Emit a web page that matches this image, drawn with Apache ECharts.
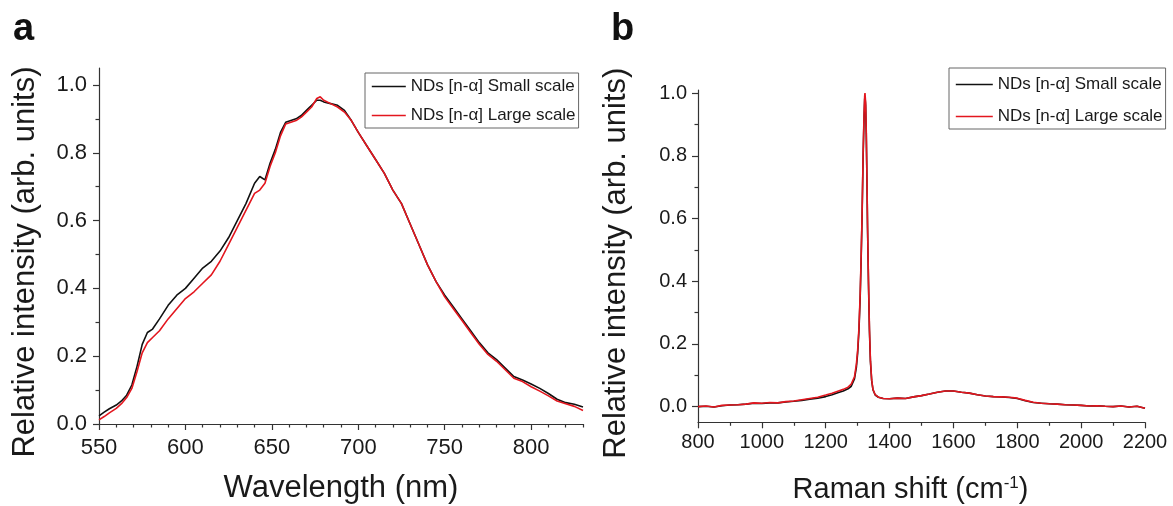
<!DOCTYPE html>
<html>
<head>
<meta charset="utf-8">
<script src="https://cdn.jsdelivr.net/npm/echarts@6/dist/echarts.min.js"></script>
<style>
html,body{margin:0;padding:0;background:#fff;}
#chart{width:1173px;height:506px;}
</style>
</head>
<body>
<div id="chart"></div>
<script>
// ---------- Panel a: photoluminescence ----------
const wavelength = [550,553,556,560,563,566,569,572,575,578,581,585,590,595,600,605,610,615,620,625,630,635,640,643,646,649,652,655,658,661,664,667,670,673,676,678,680,684,688,692,696,700,705,710,715,720,725,730,735,740,745,750,755,760,765,770,775,780,785,790,795,800,805,810,815,820,825,830];
const plSmall = [0.024,0.035,0.045,0.056,0.068,0.085,0.115,0.17,0.235,0.27,0.28,0.31,0.35,0.38,0.40,0.43,0.46,0.48,0.51,0.55,0.60,0.65,0.71,0.73,0.72,0.77,0.81,0.86,0.89,0.895,0.90,0.91,0.925,0.94,0.955,0.955,0.95,0.945,0.94,0.925,0.895,0.86,0.82,0.78,0.74,0.69,0.65,0.59,0.53,0.47,0.42,0.38,0.345,0.31,0.275,0.24,0.21,0.19,0.165,0.14,0.13,0.118,0.105,0.09,0.073,0.063,0.058,0.05];
const plLarge = [0.012,0.022,0.033,0.046,0.06,0.078,0.105,0.155,0.21,0.24,0.255,0.275,0.31,0.34,0.37,0.39,0.415,0.44,0.48,0.53,0.58,0.63,0.68,0.69,0.71,0.76,0.80,0.85,0.885,0.89,0.895,0.905,0.92,0.935,0.96,0.965,0.955,0.945,0.935,0.92,0.895,0.86,0.82,0.78,0.74,0.69,0.65,0.59,0.53,0.47,0.42,0.375,0.34,0.305,0.27,0.235,0.205,0.185,0.16,0.135,0.125,0.11,0.097,0.083,0.068,0.06,0.052,0.04];
const plXTicks = [550,600,650,700,750,800];
const plXMinor = [560,570,580,590,610,620,630,640,660,670,680,690,710,720,730,740,760,770,780,790,810,820,830];
const plYTicks = [0,0.2,0.4,0.6,0.8,1.0];
const plYMinor = [0.1,0.3,0.5,0.7,0.9];

// ---------- Panel b: Raman ----------
const ramanShift = [800,825,850,875,900,925,950,975,1000,1025,1050,1075,1100,1125,1150,1175,1200,1220,1240,1255,1270,1280,1290,1296,1300,1304,1308,1311,1314,1317,1320,1322,1323,1325,1327,1329,1331,1334,1337,1340,1344,1348,1355,1365,1380,1400,1425,1450,1475,1500,1525,1550,1575,1600,1625,1650,1675,1700,1725,1750,1775,1800,1825,1850,1875,1900,1925,1950,1975,2000,2025,2050,2075,2100,2125,2150,2175,2200];
const ramanSmall = [0.000,0.001,-0.001,0.003,0.005,0.006,0.008,0.011,0.010,0.012,0.012,0.015,0.017,0.020,0.024,0.027,0.032,0.038,0.045,0.050,0.057,0.065,0.088,0.125,0.17,0.24,0.35,0.47,0.61,0.79,0.92,0.98,0.99,0.96,0.87,0.73,0.57,0.39,0.24,0.145,0.082,0.054,0.037,0.030,0.026,0.025,0.027,0.026,0.031,0.035,0.040,0.046,0.050,0.050,0.046,0.043,0.038,0.034,0.032,0.031,0.029,0.026,0.019,0.013,0.011,0.009,0.008,0.006,0.005,0.004,0.002,0.003,0.001,0.000,0.002,-0.001,0.001,-0.005];
const ramanLarge = [0.000,0.002,-0.001,0.004,0.005,0.006,0.008,0.012,0.011,0.013,0.012,0.016,0.018,0.022,0.026,0.030,0.037,0.043,0.050,0.055,0.062,0.072,0.095,0.135,0.18,0.25,0.36,0.48,0.62,0.80,0.93,0.99,1.0,0.97,0.88,0.74,0.58,0.40,0.25,0.15,0.085,0.055,0.038,0.030,0.026,0.025,0.027,0.026,0.031,0.035,0.040,0.046,0.050,0.050,0.046,0.043,0.038,0.034,0.032,0.031,0.030,0.027,0.020,0.014,0.011,0.009,0.008,0.006,0.005,0.004,0.002,0.003,0.001,0.000,0.002,-0.001,0.001,-0.005];
const ramanXTicks = [800,1000,1200,1400,1600,1800,2000,2200];
const ramanXMinor = [900,1100,1300,1500,1700,1900,2100];
const ramanYTicks = [0,0.2,0.4,0.6,0.8,1.0];
const ramanYMinor = [0.1,0.3,0.5,0.7,0.9];

const nameSmall = 'NDs [n-\u03b1] Small scale';
const nameLarge = 'NDs [n-\u03b1] Large scale';

const FONT = '"Liberation Sans", Arial, sans-serif';
const TXT = '#1a1a1a';
const AX = '#333';
const BLACK = '#111111';
const RED = '#e3161e';

function pairs(xs, ys){ return xs.map((x,i)=>[x, ys[i]]); }

function mainX(grid, min, max, ticks, fontSize, margin, name, nameGap, nameStyle){
  return {
    type:'value', gridIndex:grid, min:min, max:max, position:'bottom',
    axisLine:{show:true, onZero:false, lineStyle:{color:AX, width:1.2}},
    axisTick:{show:true, inside:false, length:6, customValues:ticks, lineStyle:{color:AX, width:1.2}},
    axisLabel:{show:true, customValues:ticks, fontSize:fontSize, color:TXT, fontFamily:FONT, margin:margin,
      formatter:(v)=>String(Math.round(v))},
    splitLine:{show:false},
    name:name, nameLocation:'middle', nameGap:nameGap, nameTextStyle:nameStyle
  };
}
function minorX(grid, min, max, ticks){
  return {
    type:'value', gridIndex:grid, min:min, max:max, position:'bottom',
    axisLine:{show:false, onZero:false},
    axisTick:{show:true, inside:false, length:3.5, customValues:ticks, lineStyle:{color:AX, width:1.2}},
    axisLabel:{show:false}, splitLine:{show:false}
  };
}
function mainY(grid, min, max, ticks, fontSize, margin, name, nameGap, nameStyle){
  return {
    type:'value', gridIndex:grid, min:min, max:max, position:'left',
    axisLine:{show:true, onZero:false, lineStyle:{color:AX, width:1.2}},
    axisTick:{show:true, inside:false, length:6, customValues:ticks, lineStyle:{color:AX, width:1.2}},
    axisLabel:{show:true, customValues:ticks, fontSize:fontSize, color:TXT, fontFamily:FONT, margin:margin,
      formatter:(v)=>Number(v).toFixed(1)},
    splitLine:{show:false},
    name:name, nameLocation:'middle', nameGap:nameGap, nameTextStyle:nameStyle
  };
}
function minorY(grid, min, max, ticks){
  return {
    type:'value', gridIndex:grid, min:min, max:max, position:'left',
    axisLine:{show:false, onZero:false},
    axisTick:{show:true, inside:false, length:3.5, customValues:ticks, lineStyle:{color:AX, width:1.2}},
    axisLabel:{show:false}, splitLine:{show:false}
  };
}

const chart = echarts.init(document.getElementById('chart'), null, {renderer:'canvas'});

const legendCommon = {
  orient:'vertical', data:[nameSmall, nameLarge],
  itemHeight:14, borderColor:'#666', borderWidth:1, backgroundColor:'#fff',
  itemStyle:{opacity:0}, lineStyle:{width:1.6},
  textStyle:{fontSize:17, color:TXT, fontFamily:FONT}, selectedMode:false
};

const option = {
  animation:false,
  backgroundColor:'#fff',
  title:[
    {text:'a', left:13, top:11, padding:0, textStyle:{fontSize:38, fontWeight:'bold', color:'#111', fontFamily:FONT}},
    {text:'b', left:611, top:11, padding:0, textStyle:{fontSize:38, fontWeight:'bold', color:'#111', fontFamily:FONT}}
  ],
  grid:[
    {left:99, top:68, width:484, height:356, containLabel:false, outerBoundsMode:'none'},
    {left:698, top:90, width:447, height:332.3, containLabel:false, outerBoundsMode:'none'}
  ],
  legend:[
    Object.assign({}, legendCommon, {left:365, top:73, padding:[5,3,4,6], itemWidth:34, itemGap:12}),
    Object.assign({}, legendCommon, {left:949, top:68, padding:[8,3,4,6], itemWidth:37, itemGap:15})
  ],
  xAxis:[
    mainX(0, 550, 830, plXTicks, 22, 13, 'Wavelength (nm)', 49, {fontSize:31, color:TXT, fontFamily:FONT}),
    minorX(0, 550, 830, plXMinor),
    mainX(1, 800, 2200, ramanXTicks, 20, 10, '{t|Raman shift (cm}{s|-1}{t|)}', 53,
      {color:TXT, fontFamily:FONT, padding:[0,22,0,0],
       rich:{t:{fontSize:29, color:TXT, fontFamily:FONT}, s:{fontSize:17, color:TXT, fontFamily:FONT, verticalAlign:'top'}}}),
    minorX(1, 800, 2200, ramanXMinor)
  ],
  yAxis:[
    mainY(0, 0, 1.05, plYTicks, 22, 12, 'Relative intensity (arb. units)', 58, {fontSize:31, color:TXT, fontFamily:FONT, padding:[0,32,0,0]}),
    minorY(0, 0, 1.05, plYMinor),
    mainY(1, -0.05, 1.01, ramanYTicks, 20, 11, 'Relative intensity (arb. units)', 66, {fontSize:31, color:TXT, fontFamily:FONT, padding:[0,14,0,0]}),
    minorY(1, -0.05, 1.01, ramanYMinor)
  ],
  series:[
    {name:nameSmall, type:'line', xAxisIndex:0, yAxisIndex:0, data:pairs(wavelength, plSmall), showSymbol:false, symbol:'none', lineStyle:{color:BLACK, width:1.6}, itemStyle:{color:BLACK}, z:2},
    {name:nameLarge, type:'line', xAxisIndex:0, yAxisIndex:0, data:pairs(wavelength, plLarge), showSymbol:false, symbol:'none', lineStyle:{color:RED, width:1.6}, itemStyle:{color:RED}, z:3},
    {name:nameSmall, type:'line', xAxisIndex:2, yAxisIndex:2, data:pairs(ramanShift, ramanSmall), showSymbol:false, symbol:'none', lineStyle:{color:BLACK, width:1.6}, itemStyle:{color:BLACK}, z:2},
    {name:nameLarge, type:'line', xAxisIndex:2, yAxisIndex:2, data:pairs(ramanShift, ramanLarge), showSymbol:false, symbol:'none', lineStyle:{color:RED, width:1.6}, itemStyle:{color:RED}, z:3}
  ]
};
chart.setOption(option);
</script>
</body>
</html>
